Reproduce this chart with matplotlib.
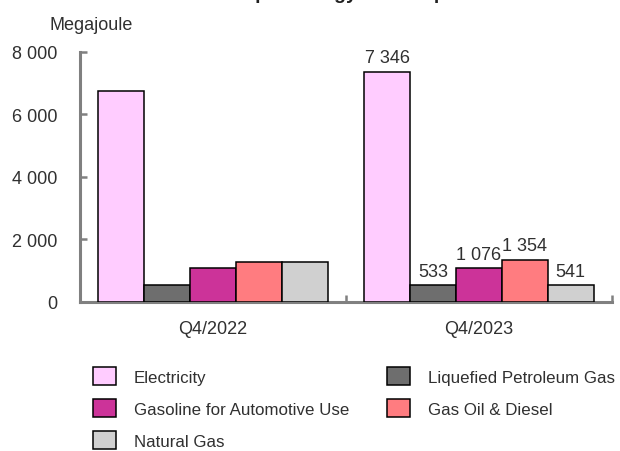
import matplotlib
matplotlib.use("Agg")
import matplotlib.pyplot as plt
import numpy as np
from matplotlib.ticker import FuncFormatter
from matplotlib.patches import Patch

plt.rcParams['font.family'] = ['Liberation Sans', 'DejaVu Sans']

categories = ["Q4/2022", "Q4/2023"]
series = ["Electricity", "Liquefied Petroleum Gas", "Gasoline for Automotive Use",
          "Gas Oil & Diesel", "Natural Gas"]
electricity = [6740, 7346]
lpg = [530, 533]
gasoline = [1095, 1076]
gas_oil = [1290, 1354]
natural_gas = [1290, 541]
show_labels = [False, True]
y_ticks = [0, 2000, 4000, 6000, 8000]
y_label = "Megajoule"
title_prefix = "Household Use "
title = "Household Use per Energy Source per Month"

values = [electricity, lpg, gasoline, gas_oil, natural_gas]
colors = ["#FFCCFF", "#6E6E6E", "#CC3399", "#FF7C80", "#D0D0D0"]
txt_color = "#303030"

def fmt(v):
    return f"{int(round(v)):,}".replace(",", " ")

W, H = 620, 452
fig = plt.figure(figsize=(W/100, H/100), dpi=100)
ax = fig.add_axes([80/W, 1-303/H, (612-80)/W, (303-52.5)/H])

n = len(series)
w = 0.861 / n
x = np.arange(len(categories))
for i, (vals, c) in enumerate(zip(values, colors)):
    pos = x - 0.861/2 + w*(i + 0.5)
    bars = ax.bar(pos, vals, width=w, color=c, edgecolor="black", linewidth=1.1, zorder=3)
    for j, b in enumerate(bars):
        if show_labels[j]:
            ax.annotate(fmt(vals[j]), (b.get_x()+b.get_width()/2, b.get_height()),
                        xytext=(0, 4), textcoords="offset points", ha="center", va="bottom",
                        fontsize=13, color=txt_color)

ax.set_xlim(-0.5, len(categories)-0.5)
ax.set_ylim(0, 8000)
ax.set_yticks(y_ticks)
ax.yaxis.set_major_formatter(FuncFormatter(lambda v, p: fmt(v)))
ax.set_xticks(x)
ax.set_xticklabels(categories)
ax.set_xticks(np.arange(-0.5, len(categories)), minor=True)
ax.tick_params(axis="x", which="major", length=0, pad=13, labelsize=13, labelcolor=txt_color)
ax.tick_params(axis="x", which="minor", direction="in", length=5, width=1.8, color="#808080")
ax.tick_params(axis="y", direction="in", length=5, width=1.8, color="#808080", pad=16,
               labelsize=13, labelcolor=txt_color)
for s in ["top", "right"]:
    ax.spines[s].set_visible(False)
for s in ["left", "bottom"]:
    ax.spines[s].set_color("#808080")
    ax.spines[s].set_linewidth(2.2)

fig.text(91/W, 1-25/H, y_label, ha="center", va="center", fontsize=13, color=txt_color)

# title: only its descenders reach into the picture, as in the reference
renderer = fig.canvas.get_renderer()
tmp = fig.text(0, 0, title_prefix, fontsize=14, fontweight="bold")
pw = tmp.get_window_extent(renderer).width
tmp.remove()
fig.text((255 - pw)/W, 1 + 1/H, title, ha="left", va="baseline", fontsize=14,
         fontweight="bold", color="#202020")

order = [0, 2, 4, 1, 3]
handles = [Patch(facecolor=colors[i], edgecolor="black", linewidth=1.1) for i in order]
labels = [series[i] for i in order]
fs = 12.2
em = fs * 100 / 72
fig.legend(handles, labels, loc="upper left", bbox_to_anchor=(93/W, 1-368/H), ncol=2,
           frameon=False, fontsize=fs, handlelength=23/em, handleheight=22/em,
           handletextpad=18/em, labelspacing=13.5/em, columnspacing=38/em, borderaxespad=0,
           borderpad=0, labelcolor=txt_color)

fig.savefig("out.png", dpi=100)
